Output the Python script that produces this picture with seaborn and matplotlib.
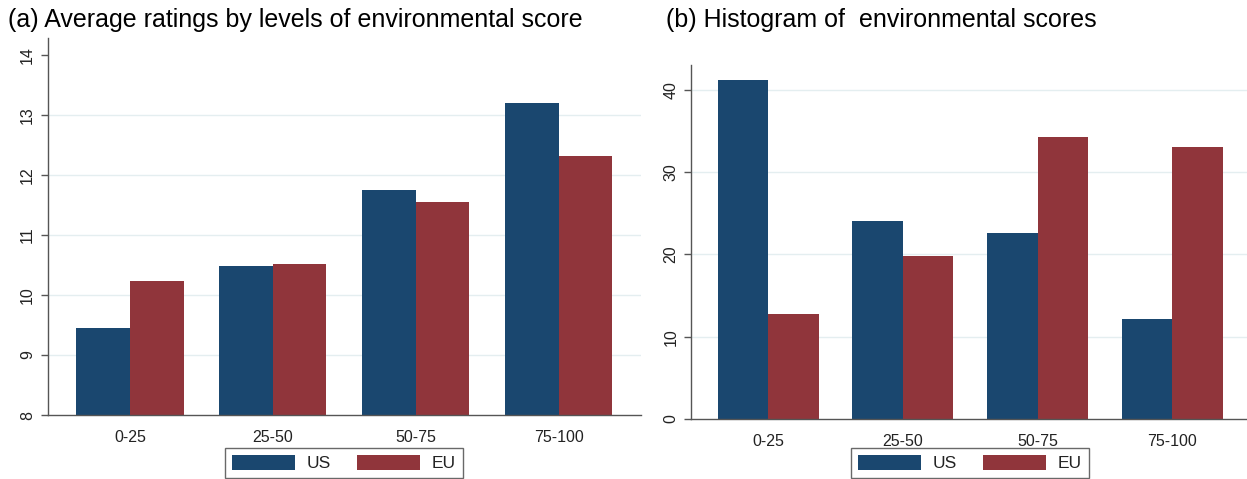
import matplotlib
matplotlib.use("Agg")
import matplotlib.pyplot as plt
import seaborn as sns
import pandas as pd
from matplotlib.patches import Patch

categories = ["0-25", "25-50", "50-75", "75-100"]
series = ["US", "EU"]
ratings_us = [9.45, 10.49, 11.75, 13.20]
ratings_eu = [10.23, 10.51, 11.54, 12.31]
hist_us = [41.15, 24.0, 22.6, 12.1]
hist_eu = [12.8, 19.8, 34.2, 33.1]
colors = {"US": "#1a476f", "EU": "#90353b"}

sns.set_theme(style="white")
plt.rcParams["font.family"] = ["Liberation Sans", "DejaVu Sans"]

def make_df(us, eu):
    return pd.DataFrame({
        "cat": categories * 2,
        "grp": ["US"] * len(categories) + ["EU"] * len(categories),
        "val": list(us) + list(eu),
    })

fig = plt.figure(figsize=(12.47, 4.79), dpi=100)
W, H = 1247, 479
axL = fig.add_axes([47.7 / W, 1 - 415 / H, (641 - 47.7) / W, (415 - 38) / H])
axR = fig.add_axes([691 / W, 1 - 419 / H, (1249.5 - 691) / W, (419 - 65) / H])

text_col = "#222222"
spine_col = "#555555"
grid_col = "#e4eef0"

for ax, (us, eu), ylim, ticks, grids in [
    (axL, (ratings_us, ratings_eu), (8, 14.28), [8, 9, 10, 11, 12, 13, 14], [9, 10, 11, 12, 13]),
    (axR, (hist_us, hist_eu), (0, 43.0), [0, 10, 20, 30, 40], [10, 20, 30, 40]),
]:
    for g in grids:
        ax.axhline(g, color=grid_col, lw=1.0, zorder=0)
    sns.barplot(data=make_df(us, eu), x="cat", y="val", hue="grp",
                hue_order=series, order=categories, palette=colors,
                width=0.75, gap=0, saturation=1, ax=ax, legend=False,
                edgecolor="none", linewidth=0, zorder=2)
    ax.set_xlim(-0.575, 3.575)
    ax.set_ylim(*ylim)
    ax.set_yticks(ticks)
    ax.set_xlabel("")
    ax.set_ylabel("")
    for s in ["top", "right"]:
        ax.spines[s].set_visible(False)
    for s in ["left", "bottom"]:
        ax.spines[s].set_color(spine_col)
        ax.spines[s].set_linewidth(1.0)
    ax.tick_params(axis="y", left=True, length=5, width=1, color=spine_col,
                   labelrotation=90, labelsize=11.5, labelcolor=text_col, pad=4)
    ax.tick_params(axis="x", bottom=False, labelsize=11.5, labelcolor=text_col, pad=5)
    for lab in ax.get_yticklabels():
        lab.set_verticalalignment("center")
    ax.grid(False)
    ax.set_facecolor("white")

fig.text(8 / W, 1 - 27 / H, "(a) Average ratings by levels of environmental score",
         fontsize=18, color="black", ha="left", va="baseline")
fig.text(666 / W, 1 - 27 / H, "(b) Histogram of  environmental scores",
         fontsize=18, color="black", ha="left", va="baseline")

handles = [Patch(facecolor=colors[s], edgecolor="none", label=s) for s in series]
for cx in [344, 970]:
    leg = fig.legend(handles=handles, loc="center", bbox_to_anchor=(cx / W, 1 - 463 / H),
                     bbox_transform=fig.transFigure, ncol=2, frameon=True, fancybox=False,
                     fontsize=12.5, handlelength=3.6, handleheight=1.0, handletextpad=0.7,
                     columnspacing=1.5, borderpad=0.4, borderaxespad=0)
    leg.get_frame().set_edgecolor("#444444")
    leg.get_frame().set_linewidth(1.0)
    for t in leg.get_texts():
        t.set_color(text_col)

fig.savefig("out.png", dpi=100, facecolor="white")
